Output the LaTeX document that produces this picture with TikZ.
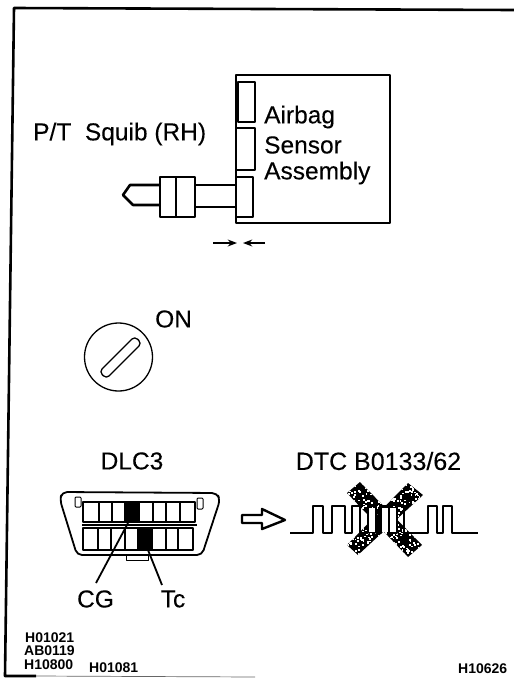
\documentclass[tikz,border=0pt]{standalone}
\usepackage{fontspec}
\setmainfont{Liberation Sans}
\newfontfamily\scanfont[FakeBold=0.15]{Liberation Sans}
\usepackage{xcolor}
\usetikzlibrary{positioning, arrows.meta}

\begin{document}
\begin{tikzpicture}[x=1pt, y=-1pt, line join=round, >=Stealth,
    every node/.style={inner sep=0pt, text=black},
    thickline/.style={line width=2.6pt},
    midline/.style={line width=1.8pt},
    labeltext/.style={font=\scanfont\fontsize{24.5}{28}\selectfont},
    codetext/.style={font=\bfseries\fontsize{14}{16}\selectfont}]
    \useasboundingbox (0,0) rectangle (514,678);

    % frame
    \coordinate (frameTL) at (14,8);
    \coordinate (frameTR) at (514,10);
    \coordinate (frameBL) at (5,676);
    \coordinate (frameMid) at (36,676);
    \coordinate (frameEnd) at (255,677);
    \draw[thickline] (frameTR) -- (frameTL) -- (frameBL) -- (frameMid);
    \draw[line width=0.7pt, black!60] (frameMid) -- (frameEnd);

    % sensor box
    \coordinate (boxTL) at (236,75);
    \coordinate (boxTR) at (390,75);
    \coordinate (boxBR) at (390,223);
    \coordinate (boxBL) at (236,223);
    \draw[thickline] (boxTL) -- (boxTR) -- (boxBR) -- (boxBL) -- cycle;
    \draw[thickline] (238,82) rectangle (255,122);
    \draw[thickline] (236,128) rectangle (255,170);
    \draw[thickline] (236,177) rectangle (253,217);
    \node[labeltext, anchor=west] (airbag)   at (264,117) {Airbag};
    \node[labeltext, anchor=west] (sensor)   at (264,145) {Sensor};
    \node[labeltext, anchor=west] (assembly) at (264,173) {Assembly};
    \node[labeltext, anchor=west] (squib)    at (33,134)  {P/T\ \ Squib (RH)};

    % plug
    \draw[thickline] (236,185) -- (195,185);
    \draw[thickline] (236,207) -- (195,207);
    \draw[thickline] (160,177) rectangle (176,217);
    \draw[thickline] (176,177) rectangle (195,217);
    \draw[thickline] (160,185) -- (130,185) -- (123,195) -- (133,205) -- (160,205);

    % closing arrows
    \draw[->, line width=1.4pt] (213,243) -- (237,243);
    \draw[->, line width=1.4pt] (265,243) -- (243,243);

    % ignition switch
    \node[circle, draw, line width=1.3pt, minimum size=68pt] (switch) at (118.5,357) {};
    \draw[line width=1.3pt, rounded corners=4pt, rotate around={45:(120.5,357.5)}]
        (95.5,352.5) rectangle (145.5,362.5);
    \node[labeltext, anchor=west] (on) at (155,319) {ON};

    % connector
    \node[labeltext] (dlc) at (132,461) {DLC3};
    \draw[midline, rounded corners=5pt] (62,492) -- (217,493) -- (220,500) -- (202,555) -- (77,555) -- (60,500) -- cycle;
    \draw[line width=0.9pt] (126,555) -- (126,560) -- (148,560) -- (148,555);
    \draw[line width=1pt, rounded corners=1pt] (75,497) rectangle (81,507);
    \draw[line width=1pt, rounded corners=1pt] (197,498) rectangle (203,509);
    \draw[midline] (83,502) rectangle (195,522);
    \draw[midline] (83,528) rectangle (193,550);
    \draw[midline] (82,525) -- (197,525);
    \foreach \xpos in {99,112,125,139,153,166,180} {
        \draw[line width=1.2pt] (\xpos,502) -- (\xpos,522);
    }
    \foreach \xpos in {98,111,125,138,152,166,178} {
        \draw[line width=1.2pt] (\xpos,528) -- (\xpos,550);
    }
    \fill (125,502) rectangle (139,522);
    \fill (138,528) rectangle (152,550);
    \coordinate (cgPin) at (128,523);
    \coordinate (cgEnd) at (96,583);
    \coordinate (tcPin) at (148,550);
    \coordinate (tcEnd) at (162,585);
    \draw[midline] (cgPin) -- (cgEnd);
    \draw[midline] (tcPin) -- (tcEnd);
    \node[labeltext] (cg) at (95.5,599) {CG};
    \node[labeltext] (tc) at (173,599) {Tc};

    % hollow arrow
    \draw[line width=2.4pt, fill=white] (242,515) -- (262,515) -- (262,509) -- (285,520) -- (262,529) -- (262,523) -- (242,523) -- cycle;

    % trouble code
    \node[labeltext, font=\scanfont\fontsize{25}{28}\selectfont] (dtc) at (378.5,461) {DTC B0133/62};
    \fill (347,493) -- (360,482) -- (422,545) -- (408,557) -- cycle;
    \fill (347,545) -- (358,555) -- (423,495) -- (408,483) -- cycle;
    \begin{scope}
        \clip (347,493) -- (360,482) -- (422,545) -- (408,557) -- cycle
              (347,545) -- (358,555) -- (423,495) -- (408,483) -- cycle;
        \pgfmathsetseed{14}
        \foreach \speck in {1,...,420} {
            \pgfmathsetmacro{\specx}{345+80*rnd}
            \pgfmathsetmacro{\specy}{480+78*rnd}
            \fill[white] (\specx,\specy) rectangle ++(1.8,1.8);
        }
    \end{scope}
    \fill[white] (369,508) rectangle (375,532);
    \fill[white] (382,508) rectangle (388,532);
    \fill[white] (390,508) rectangle (396,532);
    \draw[line width=1.5pt] (290,533) -- (313,533) -- (313,506) -- (323,506) -- (323,533) -- (332,533) -- (332,506) -- (345,506) -- (345,533)
        -- (352,533) -- (352,506) -- (360,506) -- (360,533) -- (368,533) -- (368,506) -- (376,506) -- (376,533) -- (381,533) -- (381,506)
        -- (389,506) -- (389,533) -- (397,533) -- (397,506) -- (404,506) -- (404,533) -- (428,533)
        -- (428,506) -- (437,506) -- (437,533) -- (443,533) -- (443,506) -- (452,506) -- (452,533) -- (478,533);

    % part numbers
    \node[codetext, anchor=west] (codeA) at (25,638) {H01021};
    \node[codetext, anchor=west] (codeB) at (24,651) {AB0119};
    \node[codetext, anchor=west] (codeC) at (24,665) {H10800};
    \node[codetext, anchor=west] (codeD) at (89,668) {H01081};
    \node[codetext, anchor=west] (codeE) at (458,669) {H10626};
\end{tikzpicture}
\end{document}
